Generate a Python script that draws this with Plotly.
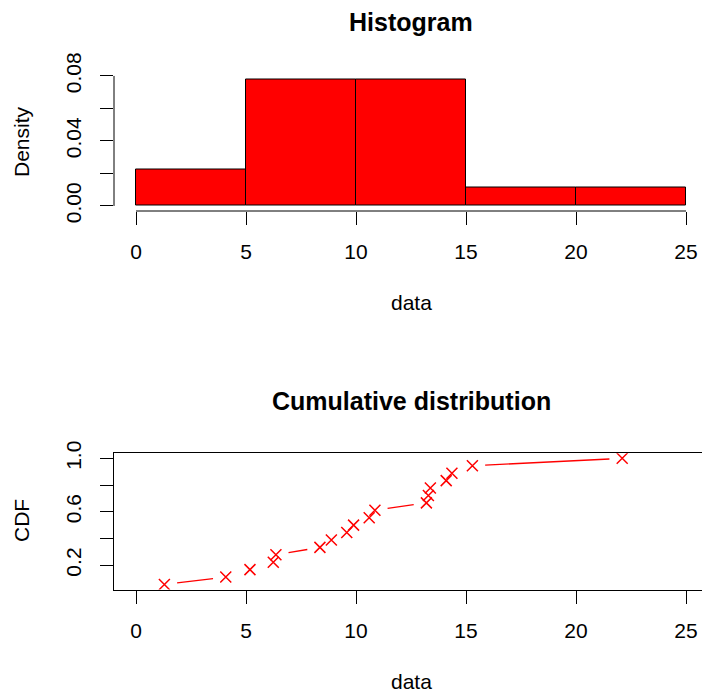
import numpy as np
import plotly.graph_objects as go

# Sample values
data = [1.29, 4.08, 5.18, 6.24, 6.36, 8.36, 8.88, 9.58, 9.89, 10.6,
        10.86, 13.2, 13.29, 13.38, 14.1, 14.36, 15.29, 22.1]
bin_start, bin_end, bin_size = 0, 25, 5
hist_xticks = [0, 5, 10, 15, 20, 25]
hist_yticks = [0.0, 0.02, 0.04, 0.06, 0.08]
hist_yticklabels = ["0.00", "", "0.04", "", "0.08"]
cdf_yticks = [0.2, 0.4, 0.6, 0.8, 1.0]
cdf_yticklabels = ["0.2", "", "0.6", "", "1.0"]

W, H = 702, 693
FONT = "Liberation Sans, Arial, Helvetica, sans-serif"
FS = 21
TITLE_FS = 25

x_sorted = np.sort(np.array(data))
cdf = np.arange(1, len(x_sorted) + 1) / len(x_sorted)
dens, _ = np.histogram(data, bins=np.arange(bin_start, bin_end + bin_size, bin_size), density=True)

# plot regions in pixels (left, top, bottom); right edge runs to the page edge
LEFT = 114
TOP1, BOT1 = 74.5, 211
TOP2, BOT2 = 453.3, 589.5
PX_PER_X = 22.0

def ext(lo, hi, f=0.04):
    d = (hi - lo) * f
    return [lo - d, hi + d]

xr = [-1, -1 + (W - LEFT) / PX_PER_X]
y1r = ext(0, dens.max())
y2r = ext(cdf.min(), cdf.max())

def py(px):
    return 1 - px / H

fig = go.Figure()

fig.add_trace(go.Histogram(
    x=data, xbins=dict(start=bin_start, end=bin_end, size=bin_size),
    histnorm="probability density",
    marker=dict(color="#ff0000", line=dict(color="black", width=1)),
    xaxis="x", yaxis="y", showlegend=False))

# connecting segments with gaps around each point
gap = 12.8
px_per_y2 = (BOT2 - TOP2) / (y2r[1] - y2r[0])
sx, sy = [], []
for i in range(len(x_sorted) - 1):
    x0, y0, x1, y1 = x_sorted[i], cdf[i], x_sorted[i + 1], cdf[i + 1]
    dxp = (x1 - x0) * PX_PER_X
    dyp = (y1 - y0) * px_per_y2
    d = np.hypot(dxp, dyp)
    if d > 2 * gap:
        f = gap / d
        sx += [x0 + (x1 - x0) * f, x1 - (x1 - x0) * f, None]
        sy += [y0 + (y1 - y0) * f, y1 - (y1 - y0) * f, None]
fig.add_trace(go.Scatter(x=sx, y=sy, mode="lines", line=dict(color="#ff0000", width=1.3),
                         xaxis="x2", yaxis="y2", showlegend=False, hoverinfo="skip"))
fig.add_trace(go.Scatter(x=x_sorted, y=cdf, mode="markers",
                         marker=dict(symbol="x-thin", size=11, color="#ff0000",
                                     line=dict(color="#ff0000", width=1.5)),
                         xaxis="x2", yaxis="y2", showlegend=False))

axis_common = dict(ticks="outside", ticklen=13, tickwidth=1, tickcolor="black",
                   showgrid=False, zeroline=False, automargin=False,
                   tickfont=dict(family=FONT, size=FS, color="black"))
XSTAND, YSTAND = 9, 11

fig.update_layout(
    template="none",
    width=W, height=H, margin=dict(l=0, r=0, t=0, b=0, pad=0, autoexpand=False),
    paper_bgcolor="white", plot_bgcolor="white", bargap=0,
    xaxis=dict(domain=[LEFT / W, 1], range=xr, anchor="y", tickvals=hist_xticks,
               showline=False, ticklabelstandoff=XSTAND, **axis_common),
    yaxis=dict(domain=[py(BOT1), py(TOP1)], range=y1r, anchor="x", tickvals=hist_yticks,
               ticktext=hist_yticklabels, tickangle=-90, showline=False,
               ticklabelstandoff=YSTAND, **axis_common),
    xaxis2=dict(domain=[LEFT / W, 1], range=xr, anchor="y2", tickvals=hist_xticks,
                showline=True, linecolor="black", linewidth=1, mirror=True,
                ticklabelstandoff=XSTAND, **axis_common),
    yaxis2=dict(domain=[py(BOT2), py(TOP2)], range=y2r, anchor="x2", tickvals=cdf_yticks,
                ticktext=cdf_yticklabels, tickangle=-90, showline=True,
                linecolor="black", linewidth=1, ticklabelstandoff=YSTAND, **axis_common),
)

# detached axis lines for the histogram
fig.add_shape(type="line", xref="x", yref="paper", x0=hist_xticks[0], x1=hist_xticks[-1],
              y0=py(BOT1), y1=py(BOT1), line=dict(color="black", width=1))
fig.add_shape(type="line", xref="paper", yref="y", x0=LEFT / W, x1=LEFT / W,
              y0=hist_yticks[0], y1=hist_yticks[-1], line=dict(color="black", width=1))

def label(text, x, y, size=FS, bold=False, angle=0):
    fig.add_annotation(text=f"<b>{text}</b>" if bold else text, x=x, y=y,
                       xref="paper", yref="paper", showarrow=False, borderpad=0,
                       xanchor="center", yanchor="middle", textangle=angle,
                       font=dict(family=FONT, size=size, color="black"))

label("Histogram", 411 / W, py(22), TITLE_FS, bold=True)
label("data", 411 / W, py(302))
label("Density", 21 / W, py(142), angle=-90)
label("Cumulative distribution", 411 / W, py(401), TITLE_FS, bold=True)
label("data", 411 / W, py(681))
label("CDF", 21 / W, py(521), angle=-90)

fig.write_html("out.html")
